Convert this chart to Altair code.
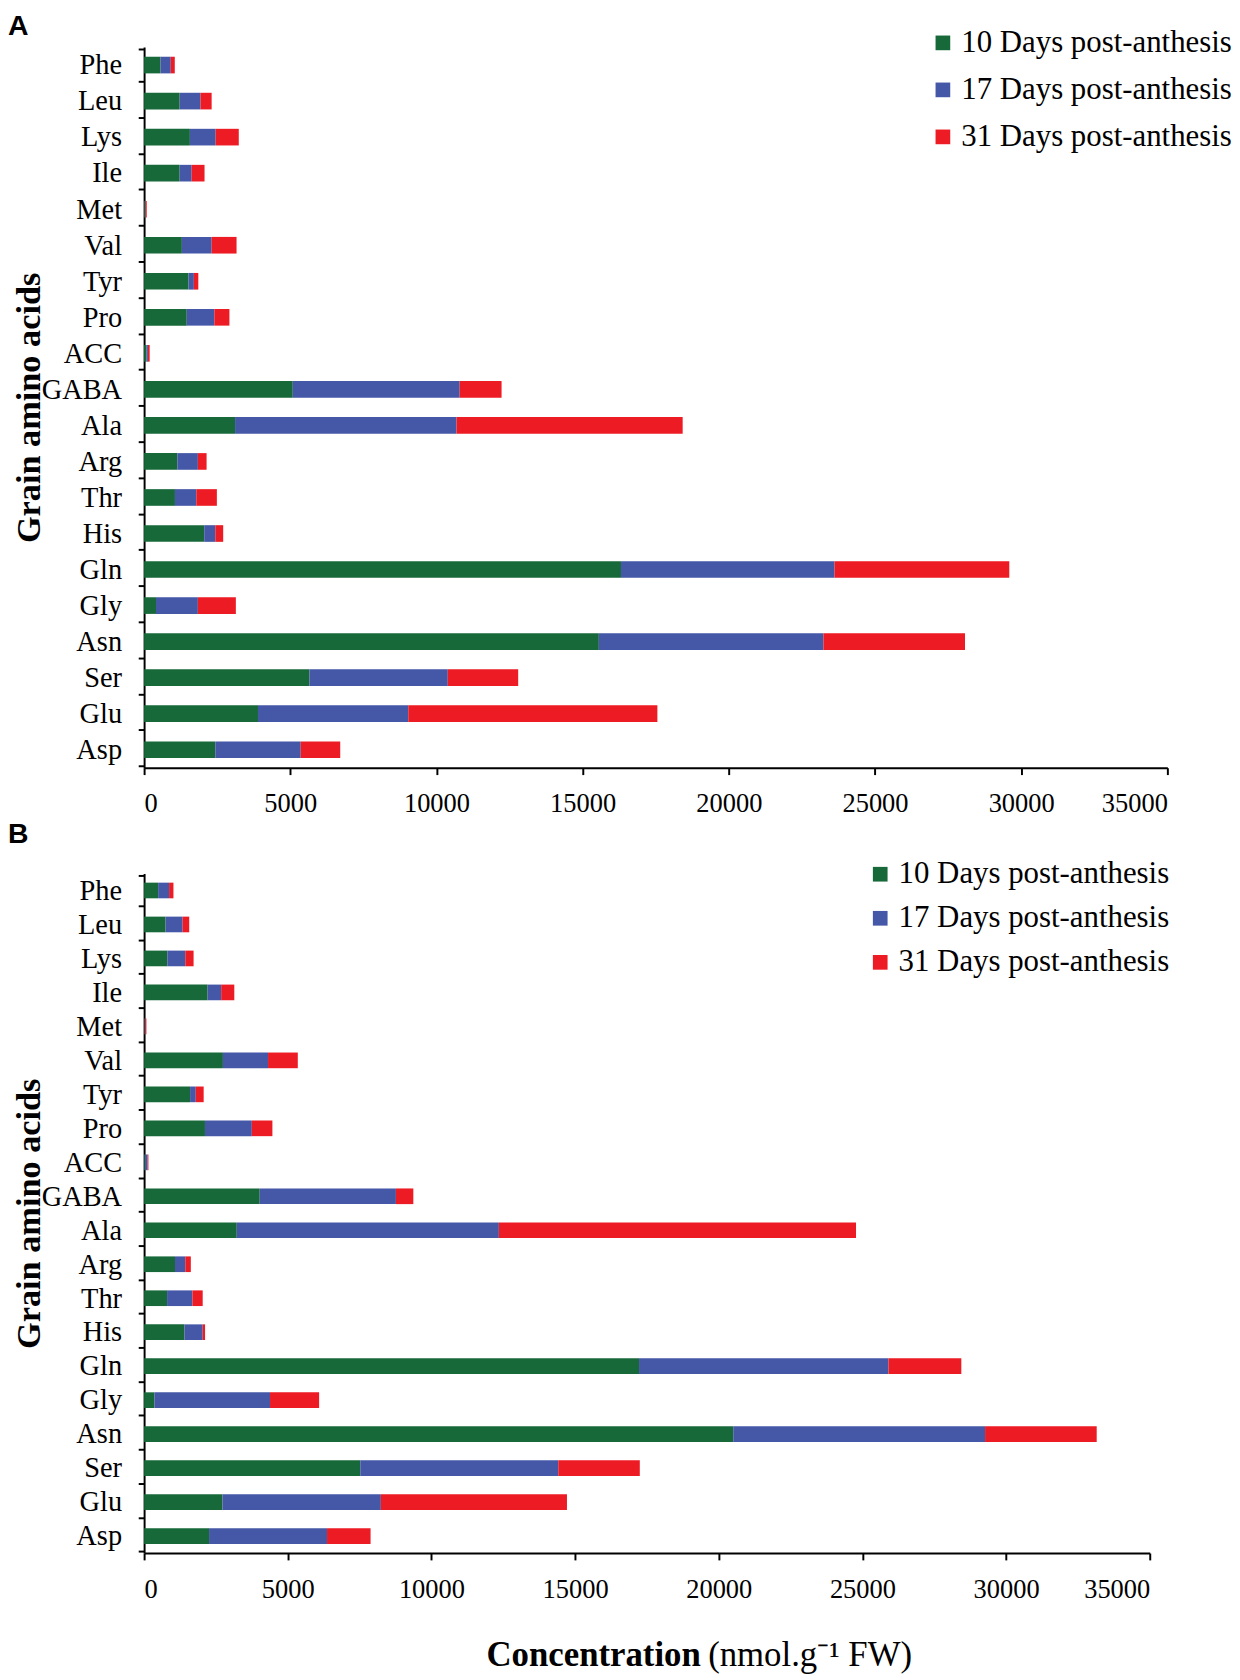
import altair as alt
import pandas as pd

categories = ["Phe", "Leu", "Lys", "Ile", "Met", "Val", "Tyr", "Pro", "ACC", "GABA",
              "Ala", "Arg", "Thr", "His", "Gln", "Gly", "Asn", "Ser", "Glu", "Asp"]
series = ["10 Days post-anthesis", "17 Days post-anthesis", "31 Days post-anthesis"]
colors = ["#17693a", "#4557a7", "#ed1c24"]
x_ticks = [0, 5000, 10000, 15000, 20000, 25000, 30000, 35000]

# Panel A (segment lengths, nmol/g FW)
a_d10 = [562, 1216, 1566, 1216, 30, 1292, 1520, 1459, 80, 5085,
         3111, 1136, 1055, 2056, 16311, 406, 15554, 5653, 3895, 2435]
a_d17 = [350, 714, 881, 410, 20, 1018, 182, 943, 50, 5708,
         7574, 703, 730, 379, 7304, 1433, 7682, 4734, 5140, 2921]
a_d31 = [137, 380, 791, 441, 40, 852, 152, 516, 60, 1434,
         7736, 298, 704, 270, 5978, 1299, 4842, 2408, 8521, 1352]

# Panel B
b_d10 = [488, 747, 808, 2210, 20, 2743, 1600, 2118, 30, 4024,
         3225, 1075, 799, 1406, 17225, 358, 20504, 7524, 2728, 2260]
b_d17 = [381, 594, 625, 472, 20, 1570, 198, 1631, 90, 4740,
         9122, 358, 882, 633, 8681, 4024, 8764, 6890, 5512, 4106]
b_d31 = [152, 229, 289, 457, 40, 1036, 275, 716, 30, 606,
         12430, 193, 358, 83, 2536, 1709, 3886, 2838, 6477, 1516]

SERIF = "Liberation Serif"
LEFT = 139


def long_table(d10, d17, d31):
    rows = []
    for i, c in enumerate(categories):
        for k, vals in enumerate([d10, d17, d31]):
            rows.append({"aa": c, "period": series[k], "order": k, "value": vals[i]})
    return pd.DataFrame(rows)


def panel(df, label, w, h, bar_size, legend_x, legend_y, row_pad, title_offset, title_dy,
          bottom=False):
    if bottom:
        x_axis = alt.Axis(values=x_ticks, title="Concentration", titleFont=SERIF,
                          titleFontSize=35.5, titleFontWeight="bold", titleColor="black",
                          titleX=568, titleY=104, titleAlign="right", titleBaseline="middle",
                          format="d")
    else:
        x_axis = alt.Axis(values=x_ticks, title=None, format="d")
    chart = alt.Chart(df).mark_bar(size=bar_size).encode(
        x=alt.X("value:Q", stack="zero",
                scale=alt.Scale(domain=[0, 35000], nice=False), axis=x_axis),
        y=alt.Y("aa:N", sort=categories,
                axis=alt.Axis(title="Grain amino acids", titleFont=SERIF, titleFontSize=35,
                              titleFontWeight="bold", titleColor="black", titleAngle=270,
                              titleX=-(LEFT + 8 - 29), titleY=h / 2, titleAlign="center",
                              titleBaseline="middle", tickBand="extent",
                              labelPadding=17, tickSize=6)),
        color=alt.Color("period:N", scale=alt.Scale(domain=series, range=colors),
                        legend=alt.Legend(orient="none", legendX=legend_x, legendY=legend_y,
                                          title=None, symbolType="square", symbolSize=225,
                                          symbolStrokeWidth=0, labelFont=SERIF,
                                          labelFontSize=31.5, labelColor="black",
                                          rowPadding=row_pad, labelOffset=3, padding=0,
                                          labelLimit=0)),
        order=alt.Order("order:Q"),
    ).properties(
        width=w, height=h,
        title=alt.TitleParams(label, anchor="start", frame="group", dx=-LEFT, dy=title_dy,
                              font="Liberation Sans", fontSize=29, fontWeight="bold",
                              color="black", offset=title_offset),
    )
    return chart


chart_a = panel(long_table(a_d10, a_d17, a_d31), "A", 1045, 736, 17, 800, -20, 15, -19, -5)
chart_b = panel(long_table(b_d10, b_d17, b_d31), "B", 1027, 694, 16, 736, -15, 12, 10, 0,
                bottom=True)

chart = alt.vconcat(
    chart_a, chart_b, spacing=4,
    title=alt.TitleParams("(nmol.g\u207b\u00b9 FW)", orient="bottom", anchor="start",
                          frame="bounds", dx=715, dy=-35.5, offset=0, font=SERIF,
                          fontSize=35.5, fontWeight="normal", color="black"),
    padding={"left": 0, "top": -13, "right": 0, "bottom": 0},
).resolve_scale(x="independent", y="independent", color="independent").resolve_legend(
    color="independent"
).configure_view(stroke=None).configure_axis(
    domainColor="black", domainWidth=2, tickColor="black", tickWidth=2,
    labelFont=SERIF, labelColor="black", grid=False
).configure_axisY(labelFontSize=29).configure_axisX(
    labelFontSize=27, tickSize=7, labelPadding=17
)

chart.save("out.html", embed_options={"renderer": "svg", "actions": False})
